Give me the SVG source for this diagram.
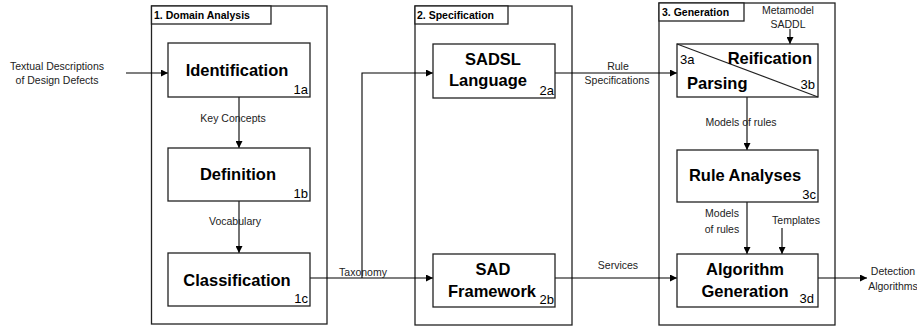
<svg xmlns="http://www.w3.org/2000/svg" width="917" height="327" viewBox="0 0 917 327">
<defs>
<marker id="arr" viewBox="0 0 10 10" refX="10" refY="5" markerWidth="9" markerHeight="7" markerUnits="userSpaceOnUse" orient="auto">
<path d="M0,0 L10,5 L0,10 z" fill="#000"/>
</marker>
<style>
.panel{fill:none;stroke:#222;stroke-width:1.3}
.tbox{fill:#fff;stroke:#222;stroke-width:1.3}
.box{fill:#fff;stroke:#222;stroke-width:1.3}
.ptitle{font-family:"Liberation Sans",Arial,sans-serif;font-weight:bold;font-size:10.5px;fill:#000}
.name{font-family:"Liberation Sans",Arial,sans-serif;font-weight:bold;font-size:16.5px;fill:#000;text-anchor:middle}
.num{font-family:"Liberation Sans",Arial,sans-serif;font-size:13px;fill:#000;text-anchor:end}
.lbl{font-family:"Liberation Sans",Arial,sans-serif;font-size:10.5px;fill:#222;text-anchor:middle}
.con{fill:none;stroke:#000;stroke-width:1.1}
</style>
</defs>
<rect width="917" height="327" fill="#fff"/>

<g id="panel1">
<rect class="panel" x="151.5" y="6" width="175.5" height="318"/>
<rect class="tbox" x="151.5" y="6" width="119.5" height="18"/>
<text class="ptitle" x="154" y="19">1. Domain Analysis</text>
</g>
<g id="panel2">
<rect class="panel" x="415" y="6" width="157" height="319"/>
<rect class="tbox" x="415" y="6" width="93" height="18"/>
<text class="ptitle" x="417" y="19">2. Specification</text>
</g>
<g id="panel3">
<rect class="panel" x="659" y="3" width="176" height="322"/>
<rect class="tbox" x="659" y="3" width="85" height="18"/>
<text class="ptitle" x="662" y="16">3. Generation</text>
</g>

<g id="connectors">
<line class="con" x1="126" y1="73" x2="168" y2="73" marker-end="url(#arr)"/>
<line class="con" x1="239" y1="97" x2="239" y2="148" marker-end="url(#arr)"/>
<line class="con" x1="239" y1="201" x2="239" y2="253" marker-end="url(#arr)"/>
<line class="con" x1="310" y1="278" x2="433" y2="278" marker-end="url(#arr)"/>
<polyline class="con" points="362,278 362,73 433,73" marker-end="url(#arr)"/>
<line class="con" x1="555" y1="73" x2="677" y2="73" marker-end="url(#arr)"/>
<line class="con" x1="555" y1="278" x2="677" y2="278" marker-end="url(#arr)"/>
<line class="con" x1="790" y1="29" x2="790" y2="44" marker-end="url(#arr)"/>
<line class="con" x1="747" y1="97" x2="747" y2="150" marker-end="url(#arr)"/>
<line class="con" x1="747" y1="202" x2="747" y2="254" marker-end="url(#arr)"/>
<line class="con" x1="782" y1="228" x2="782" y2="254" marker-end="url(#arr)"/>
<line class="con" x1="818" y1="278" x2="867" y2="278" marker-end="url(#arr)"/>
<text class="lbl" x="57" y="70">Textual Descriptions</text>
<text class="lbl" x="57" y="84">of Design Defects</text>
<text class="lbl" x="233" y="122">Key Concepts</text>
<text class="lbl" x="235" y="225">Vocabulary</text>
<text class="lbl" x="363" y="276">Taxonomy</text>
<text class="lbl" x="618" y="70">Rule</text>
<text class="lbl" x="617" y="84">Specifications</text>
<text class="lbl" x="618" y="269">Services</text>
<text class="lbl" x="788" y="14">Metamodel</text>
<text class="lbl" x="788" y="28">SADDL</text>
<text class="lbl" x="741" y="126">Models of rules</text>
<text class="lbl" x="722" y="217">Models</text>
<text class="lbl" x="722" y="233">of rules</text>
<text class="lbl" x="796" y="224">Templates</text>
<text class="lbl" x="893" y="275">Detection</text>
<text class="lbl" x="893" y="290">Algorithms</text>
</g>

<g id="n1a">
<rect class="box" x="168" y="43" width="142" height="54"/>
<text class="name" x="237" y="76">Identification</text>
<text class="num" x="308" y="94">1a</text>
</g>
<g id="n1b">
<rect class="box" x="168" y="148" width="142" height="53"/>
<text class="name" x="238" y="180">Definition</text>
<text class="num" x="308" y="198">1b</text>
</g>
<g id="n1c">
<rect class="box" x="168" y="253" width="142" height="53"/>
<text class="name" x="237" y="286">Classification</text>
<text class="num" x="308" y="303">1c</text>
</g>
<g id="n2a">
<rect class="box" x="433" y="44" width="122" height="54"/>
<text class="name" x="493" y="65">SADSL</text>
<text class="name" x="488" y="86">Language</text>
<text class="num" x="554" y="95">2a</text>
</g>
<g id="n2b">
<rect class="box" x="433" y="254" width="122" height="53"/>
<text class="name" x="493" y="275">SAD</text>
<text class="name" x="492" y="297">Framework</text>
<text class="num" x="554" y="304">2b</text>
</g>
<g id="n3ab">
<rect class="box" x="677" y="44" width="141" height="53"/>
<line x1="677" y1="44" x2="818" y2="97" stroke="#222" stroke-width="1.1"/>
<text class="num" x="680" y="64" style="text-anchor:start">3a</text>
<text class="name" x="812" y="64" style="text-anchor:end">Reification</text>
<text class="name" x="687" y="89" style="text-anchor:start">Parsing</text>
<text class="num" x="815" y="89">3b</text>
</g>
<g id="n3c">
<rect class="box" x="677" y="150" width="141" height="52"/>
<text class="name" x="745" y="181">Rule Analyses</text>
<text class="num" x="816" y="199">3c</text>
</g>
<g id="n3d">
<rect class="box" x="677" y="254" width="141" height="53"/>
<text class="name" x="745" y="275">Algorithm</text>
<text class="name" x="745" y="297">Generation</text>
<text class="num" x="814" y="303">3d</text>
</g>
</svg>
